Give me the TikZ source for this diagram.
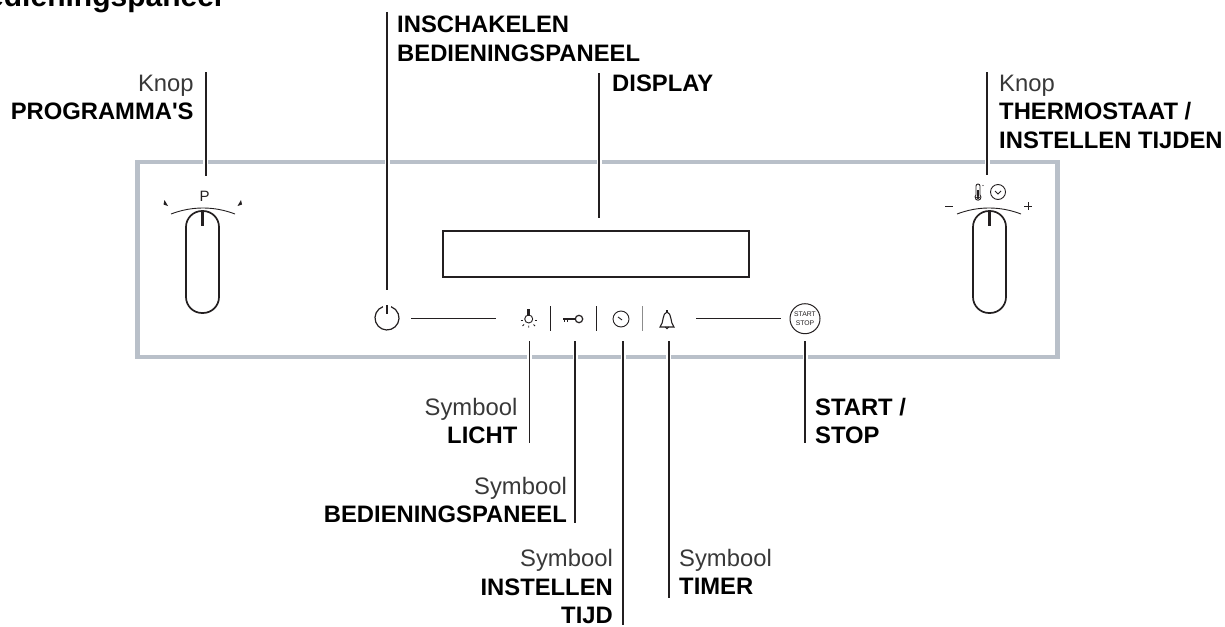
\documentclass[tikz,border=0pt]{standalone}
\usepackage{fontspec}
\setmainfont{Liberation Sans}
\usepackage{tikz}
\usetikzlibrary{positioning, calc}
\definecolor{panelgrey}{HTML}{B9C0C9}
\definecolor{inktone}{HTML}{231F20}
\newcommand{\bflabel}[1]{\textcolor{black}{\textbf{#1}}}

\begin{document}
\begin{tikzpicture}[
    x=1pt, y=-1pt, color=inktone,
    heading/.style={font=\fontsize{30}{34}\selectfont\bfseries, text=black, inner sep=0pt, anchor=base east},
    lblleft/.style={font=\fontsize{23.8}{28.4}\selectfont, text=black!78, align=right, inner sep=0pt, anchor=north east},
    lblright/.style={font=\fontsize{23.8}{28.4}\selectfont, text=black!78, align=left, inner sep=0pt, anchor=north west},
    leader/.style={line width=1.9pt, preaction={draw=white, line width=5pt}},
    panelbox/.style={draw=panelgrey, line width=4.4pt, minimum width=920pt, minimum height=195pt, inner sep=0pt},
    screen/.style={draw, line width=1.3pt, minimum width=306pt, minimum height=46pt, inner sep=0pt},
    knob/.style={draw, line width=1.7pt, rounded corners=16pt, minimum width=33pt, minimum height=102pt, inner sep=0pt},
    thinline/.style={line width=0.9pt},
    symline/.style={line width=1.1pt},
    startbtn/.style={draw, circle, line width=1pt, minimum size=30pt, inner sep=0pt, align=center, font=\fontsize{6.8}{8.7}\selectfont, text=inktone},
]
\useasboundingbox (0,0) rectangle (1225,626);

\node[heading] (title) at (222.5,7) {Bedieningspaneel};

% panel
\node[panelbox] (panel) at (597.5,259.5) {};
\node[screen] (display) at (596,254) {};
\node[knob] (knobp) at (202.5,262) {};
\node[knob] (knobt) at (989.5,262) {};
\node[startbtn] (startstop) at (805,318.7) {START\\STOP};

% knob marks
\draw[line width=3.5pt] (knobp.north) -- ++(0,16);
\draw[line width=3.5pt] (knobt.north) -- ++(0,16);
\draw[thinline] (171,214) .. controls (192,206) and (214,206) .. (235,214);
\draw[thinline] (957,214) .. controls (978,206) and (1000,206) .. (1021,214);
\node[font=\fontsize{15}{15}\selectfont, text=inktone, inner sep=0pt] (plabel) at (204.5,196) {P};
\fill (164.5,200) -- (168,206) -- (163.5,204.5) -- cycle;
\fill (241,200) -- (237.5,206) -- (242,204.5) -- cycle;
\draw[thinline] (945,206) -- (953,206);
\draw[thinline] (1024,206) -- (1032,206);
\draw[thinline] (1028,202) -- (1028,210);
% thermometer and clock
\draw[thinline] (976,195) -- (976,186) arc (180:360:2) -- (980,195) arc (-48:228:3);
\fill (977,190) rectangle (979,196);
\fill (978,197.5) circle (1.8);
\fill (983,185.5) circle (0.6);
\draw[thinline] (998,192) circle (7.5);
\draw[thinline] (995,191) -- (998,194) -- (1001,191);

% power symbol
\draw[line width=1.2pt] (382.9,306.7) arc (-110:-430:12);
\draw[line width=1.2pt] (387,305) -- (387,314);
\draw[thinline] (411,318) -- (496,318);

% lamp
\draw[thinline] (528.7,319) circle (4);
\fill (527,309) rectangle (530.4,315.5);
\draw[thinline] (520.5,320.5) -- (523,320.5) (534.5,320.5) -- (537,320.5);
\draw[thinline] (522.5,326) -- (524,324.5) (535,326) -- (533.5,324.5) (528.7,325.5) -- (528.7,327.5);
\draw[thinline] (550,306) -- (550,331);

% key
\draw[line width=1.5pt] (563,319) -- (575,319);
\draw[thinline] (564.5,319) -- (564.5,322) (567,319) -- (567,321.5);
\draw[line width=1.2pt] (579,319) circle (3.7);
\draw[thinline] (596,306) -- (596,331);

% clock
\draw[thinline] (621,319) circle (8);
\draw[thinline] (618,317) -- (622,320);
\draw[draw=black!45, thinline] (642,306) -- (642,331);

% bell
\draw[symline] (660,327) .. controls (664,323) and (662,313) .. (667,312) .. controls (672,313) and (670,323) .. (674,327) -- cycle;
\draw[symline] (667,312) -- (667,310);
\draw[symline] (665.3,327) arc (180:0:1.7);
\draw[thinline] (696,318) -- (781,318);

% leader ends
\coordinate (progtop) at (205.7,72);
\coordinate (progend) at (205.7,176);
\coordinate (powertop) at (387,12);
\coordinate (powerend) at (387,290);
\coordinate (disptop) at (599,73);
\coordinate (dispend) at (599,218);
\coordinate (thermtop) at (987,72);
\coordinate (thermend) at (987,175);
\coordinate (lichttop) at (529.5,341);
\coordinate (lichtend) at (529.5,442.5);
\coordinate (keytop) at (575.3,341);
\coordinate (keyend) at (575.3,523);
\coordinate (tijdtop) at (623.3,341);
\coordinate (tijdend) at (623.3,625);
\coordinate (timertop) at (668.6,341);
\coordinate (timerend) at (668.6,598);
\coordinate (starttop) at (805,341);
\coordinate (startend) at (805,442.5);

\draw[leader] (progtop) -- (progend);
\draw[leader] (powertop) -- (powerend);
\draw[leader] (disptop) -- (dispend);
\draw[leader] (thermtop) -- (thermend);
\draw[leader] (lichttop) -- (lichtend);
\draw[leader] (keytop) -- (keyend);
\draw[leader] (tijdtop) -- (tijdend);
\draw[leader] (timertop) -- (timerend);
\draw[leader] (starttop) -- (startend);

% labels
\node[lblleft] (lblprog) at (193.8,74.8) {Knop\\\bflabel{PROGRAMMA\textquotesingle S}};
\node[lblright] (lblpower) at (397,15.8) {\bflabel{INSCHAKELEN}\\\bflabel{BEDIENINGSPANEEL}};
\node[lblright] (lbldisp) at (612,75) {\bflabel{DISPLAY}};
\node[lblright] (lbltherm) at (999,74.8) {Knop\\\bflabel{THERMOSTAAT /}\\\bflabel{INSTELLEN TIJDEN}};
\node[lblleft] (lbllicht) at (517.5,397.8) {Symbool\\\bflabel{LICHT}};
\node[lblleft] (lblkey) at (567,476.8) {Symbool\\\bflabel{BEDIENINGSPANEEL}};
\node[lblleft] (lbltijd) at (613,549.5) {Symbool\\\bflabel{INSTELLEN}\\\bflabel{TIJD}};
\node[lblright] (lbltimer) at (679,548.8) {Symbool\\\bflabel{TIMER}};
\node[lblright] (lblstart) at (815,397.8) {\bflabel{START /}\\\bflabel{STOP}};
\end{tikzpicture}
\end{document}
